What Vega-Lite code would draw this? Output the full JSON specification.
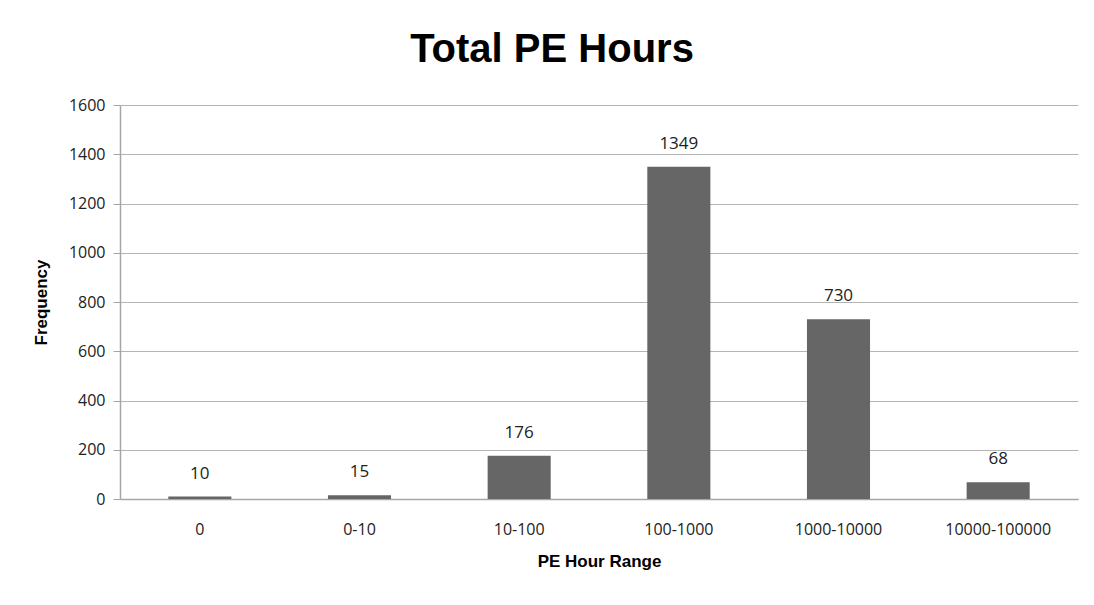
{
  "$schema": "https://vega.github.io/schema/vega-lite/v6.json",
  "width": 958,
  "height": 394,
  "autosize": {"type": "none"},
  "padding": {"left": 120, "top": 105, "right": 16, "bottom": 106},
  "background": "white",
  "title": {
    "text": "Total PE Hours",
    "font": "Liberation Sans",
    "fontSize": 40,
    "fontWeight": "bold",
    "color": "#000000",
    "anchor": "middle",
    "dx": -47,
    "offset": 27
  },
  "data": {
    "values": [
      {"range": "0", "frequency": 10},
      {"range": "0-10", "frequency": 15},
      {"range": "10-100", "frequency": 176},
      {"range": "100-1000", "frequency": 1349},
      {"range": "1000-10000", "frequency": 730},
      {"range": "10000-100000", "frequency": 68}
    ]
  },
  "encoding": {
    "x": {
      "field": "range",
      "type": "nominal",
      "sort": null,
      "scale": {"paddingInner": 0.605, "paddingOuter": 0.3025},
      "axis": {
        "title": "PE  Hour Range",
        "titleFont": "Liberation Sans",
        "titleFontSize": 17,
        "titleFontWeight": "bold",
        "titleColor": "#000000",
        "titlePadding": 16,
        "labelFont": "Open Sans",
        "labelFontSize": 16,
        "labelColor": "#222222",
        "labelAngle": 0,
        "labelPadding": 22,
        "ticks": false,
        "domainColor": "#a6a6a6",
        "domainWidth": 1.5
      }
    },
    "y": {
      "field": "frequency",
      "type": "quantitative",
      "scale": {"domain": [0, 1600]},
      "axis": {
        "title": "Frequency",
        "titleFont": "Liberation Sans",
        "titleFontSize": 17,
        "titleFontWeight": "bold",
        "titleColor": "#000000",
        "titlePadding": 18,
        "values": [0, 200, 400, 600, 800, 1000, 1200, 1400, 1600],
        "format": "d",
        "labelFont": "Open Sans",
        "labelFontSize": 16,
        "labelColor": "#222222",
        "labelPadding": 8,
        "tickSize": 7,
        "tickColor": "#a6a6a6",
        "domainColor": "#a6a6a6",
        "domainWidth": 1.5,
        "gridColor": "#b4b4b4",
        "gridWidth": 1.2
      }
    }
  },
  "layer": [
    {"mark": {"type": "bar", "color": "#666666"}},
    {
      "mark": {"type": "text", "baseline": "bottom", "dy": -14, "font": "Open Sans", "fontSize": 17, "color": "#222222"},
      "encoding": {"text": {"field": "frequency", "type": "quantitative"}}
    }
  ],
  "config": {"view": {"stroke": null}}
}
